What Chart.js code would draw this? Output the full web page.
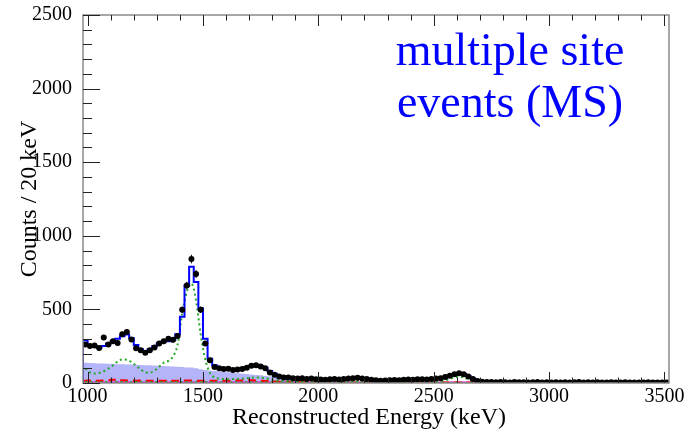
<!DOCTYPE html>
<html>
<head>
<meta charset="utf-8">
<script src="https://cdn.jsdelivr.net/npm/chart.js@4.4.1/dist/chart.umd.min.js"></script>
<style>
  body { margin: 0; background: #fff; }
  #grafico { display: block; }
</style>
</head>
<body>
<canvas id="grafico" width="690" height="433"></canvas>
<script>
// binning: 20 keV bins, from 980 to 3520 keV (127 bins)
const binInicio = 980;
const binLargura = 20;

// measured counts per bin (black points)
const contagens = [
    261, 252, 255, 238, 309, 262, 284, 272, 331, 347,
    295, 236, 223, 205, 222, 241, 268, 284, 300, 293,
    320, 498, 662, 842, 741, 498, 268, 155, 108, 100,
    95, 96, 88, 92, 95, 104, 117, 120, 112, 100,
    72, 56, 45, 38, 37, 32, 30, 33, 28, 30,
    26, 24, 22, 25, 27, 24, 28, 30, 33, 35,
    30, 28, 22, 18, 15, 17, 19, 20, 18, 22,
    24, 22, 26, 25, 24, 28, 30, 33, 40, 50,
    60, 66, 60, 45, 28, 14, 9, 7, 6, 5,
    6, 5, 4, 6, 5, 5, 4, 5, 6, 4,
    5, 4, 5, 3, 5, 4, 5, 6, 4, 5,
    4, 5, 3, 4, 5, 4, 3, 5, 4, 4,
    3, 4, 5, 3, 4, 3, 4
];

// total fit (blue histogram)
const ajusteTotal = [
    290, 258, 250, 240, 252, 268, 285, 300, 318, 330,
    305, 258, 230, 215, 230, 250, 270, 282, 283, 292,
    332, 450, 662, 790, 686, 507, 300, 165, 120, 106,
    100, 97, 95, 96, 100, 108, 117, 121, 116, 104,
    82, 62, 50, 43, 39, 36, 34, 32, 30, 29,
    28, 27, 27, 27, 28, 29, 30, 32, 34, 35,
    33, 29, 25, 21, 19, 18, 19, 20, 21, 22,
    23, 24, 25, 26, 27, 29, 31, 35, 42, 52,
    61, 65, 61, 48, 30, 16, 10, 8, 7, 7,
    7, 7, 6, 6, 6, 6, 6, 6, 6, 6,
    6, 5, 5, 5, 5, 5, 5, 5, 5, 5,
    5, 5, 5, 5, 4, 4, 4, 4, 4, 4,
    4, 4, 4, 4, 4, 4, 4
];

// green dotted component (gamma lines)
const compVerde = [
    99, 72, 65, 68, 80, 98, 120, 145, 160, 158,
    142, 118, 92, 72, 70, 85, 110, 138, 150, 180,
    260, 470, 620, 676, 560, 330, 160, 68, 38, 30,
    27, 26, 27, 28, 30, 33, 36, 38, 36, 32,
    26, 20, 16, 13, 12, 11, 10, 10, 10, 10,
    10, 10, 10, 10, 10, 10, 11, 12, 13, 13,
    12, 10, 9, 8, 8, 8, 8, 8, 8, 8,
    8, 8, 8, 8, 9, 9, 10, 12, 18, 28,
    38, 42, 38, 26, 14, 7, 4, 3, 3, 3,
    2, 2, 2, 2, 2, 2, 2, 2, 2, 2,
    2, 2, 2, 2, 2, 2, 2, 2, 2, 2,
    2, 2, 2, 2, 2, 2, 2, 2, 2, 2,
    2, 2, 2, 2, 2, 2, 2
];

// second green dotted component, near the bottom
const compVerde2 = [
    6, 6, 6, 6, 6, 6, 6, 6, 6, 6,
    6, 6, 6, 6, 6, 6, 6, 6, 6, 6,
    6, 6, 6, 6, 6, 6, 6, 6, 6, 6,
    5, 5, 5, 5, 5, 5, 5, 5, 5, 5,
    4, 4, 4, 4, 4, 4, 4, 4, 4, 4,
    3, 3, 3, 3, 3, 3, 3, 3, 3, 3,
    3, 3, 3, 3, 3, 3, 3, 3, 3, 3,
    2, 2, 2, 2, 2, 2, 2, 2, 2, 2,
    2, 2, 2, 2, 2, 2, 2, 2, 2, 2,
    1, 1, 1, 1, 1, 1, 1, 1, 1, 1,
    1, 1, 1, 1, 1, 1, 1, 1, 1, 1,
    1, 1, 1, 1, 1, 1, 1, 1, 1, 1,
    1, 1, 1, 1, 1, 1, 1
];

// light blue filled component
const compAzul = [
    138, 136, 135, 133, 132, 131, 130, 128, 127, 126,
    125, 124, 122, 121, 120, 119, 117, 116, 114, 112,
    110, 108, 106, 105, 100, 94, 88, 85, 82, 79,
    76, 73, 70, 67, 64, 61, 58, 55, 52, 48,
    45, 42, 38, 34, 30, 26, 22, 18, 15, 12,
    10, 9, 8, 7, 7, 6, 6, 5, 5, 5,
    4, 4, 4, 4, 3, 3, 3, 3, 3, 3,
    2, 2, 2, 2, 2, 2, 2, 2, 2, 2,
    1, 1, 1, 1, 1, 1, 1, 1, 1, 1,
    1, 1, 1, 1, 1, 1, 1, 1, 1, 1,
    0, 0, 0, 0, 0, 0, 0, 0, 0, 0,
    0, 0, 0, 0, 0, 0, 0, 0, 0, 0,
    0, 0, 0, 0, 0, 0, 0
];

// red dashed component
const compVermelho = [
    16, 17, 16, 16, 17, 18, 22, 22, 18, 17,
    17, 16, 17, 16, 16, 16, 15, 16, 15, 15,
    16, 17, 17, 17, 16, 16, 15, 15, 16, 16,
    16, 16, 17, 17, 17, 18, 18, 17, 16, 14,
    12, 10, 9, 8, 7, 6, 6, 5, 5, 5,
    4, 4, 4, 4, 4, 4, 4, 4, 4, 4,
    3, 3, 3, 3, 3, 3, 3, 3, 3, 3,
    3, 3, 3, 3, 3, 3, 3, 3, 3, 3,
    3, 3, 3, 3, 3, 2, 2, 2, 2, 2,
    2, 2, 2, 2, 2, 2, 2, 2, 2, 2,
    2, 2, 2, 2, 2, 2, 2, 2, 2, 2,
    2, 2, 2, 2, 2, 2, 2, 2, 2, 2,
    2, 2, 2, 2, 2, 2, 2
];

// magenta component
const compMagenta = [
    3, 3, 3, 3, 3, 3, 3, 3, 3, 3,
    3, 3, 3, 3, 3, 3, 3, 3, 3, 3,
    3, 3, 3, 3, 3, 3, 3, 3, 3, 3,
    3, 3, 3, 3, 3, 3, 3, 3, 3, 3,
    3, 3, 3, 3, 3, 3, 3, 3, 3, 3,
    3, 3, 3, 3, 3, 3, 3, 3, 3, 3,
    3, 3, 3, 3, 3, 3, 3, 3, 3, 3,
    3, 3, 3, 3, 3, 3, 3, 3, 3, 3,
    3, 3, 3, 3, 3, 1, 1, 1, 1, 1,
    1, 1, 1, 1, 1, 1, 1, 1, 1, 1,
    1, 1, 1, 1, 1, 1, 1, 1, 1, 1,
    1, 1, 1, 1, 1, 1, 1, 1, 1, 1,
    1, 1, 1, 1, 1, 1, 1
];

const ticksX = [1000, 1500, 2000, 2500, 3000, 3500];
const ticksY = [0, 500, 1000, 1500, 2000, 2500];
const tituloX = "Reconstructed Energy (keV)";
const tituloY = "Counts / 20 keV";
const textoCaixa = ["multiple site", "events (MS)"];

const fonte = "'Liberation Serif', 'Times New Roman', serif";

// histogram as steps: one point at each low edge, plus the last edge
function degraus(valores, comecaZero) {
    let pts = [];
    if (comecaZero) pts.push({x: binInicio, y: 0});
    for (let i = 0; i < valores.length; i++) {
        pts.push({x: binInicio + i * binLargura, y: valores[i]});
    }
    pts.push({x: binInicio + valores.length * binLargura, y: valores[valores.length - 1]});
    return pts;
}

function centros(valores) {
    return valores.map((v, i) => ({x: binInicio + i * binLargura + binLargura / 2, y: v}));
}

// ROOT style ticks, frame, error bars, x labels and the text box
const pluginRoot = {
    id: 'pluginRoot',
    afterDatasetsDraw(chart) {
        const ctx = chart.ctx;
        const a = chart.chartArea;
        const sx = chart.scales.x;
        const sy = chart.scales.y;

        // error bars of the data points
        ctx.save();
        ctx.beginPath();
        ctx.rect(a.left, a.top, a.right - a.left, a.bottom - a.top);
        ctx.clip();
        ctx.strokeStyle = '#000';
        ctx.lineWidth = 1;
        contagens.forEach((n, i) => {
            const xc = binInicio + i * binLargura + binLargura / 2;
            const px = sx.getPixelForValue(xc);
            const e = Math.sqrt(n);
            ctx.beginPath();
            ctx.moveTo(px, sy.getPixelForValue(n + e));
            ctx.lineTo(px, sy.getPixelForValue(Math.max(n - e, 0)));
            ctx.moveTo(sx.getPixelForValue(xc - binLargura / 2), sy.getPixelForValue(n));
            ctx.lineTo(sx.getPixelForValue(xc + binLargura / 2), sy.getPixelForValue(n));
            ctx.stroke();
        });
        ctx.restore();

        ctx.save();
        // frame
        ctx.strokeStyle = '#8a8a8a';
        ctx.lineWidth = 1.5;
        ctx.strokeRect(a.left, a.top, a.right - a.left, a.bottom - a.top);

        // ticks
        ctx.strokeStyle = '#222';
        ctx.lineWidth = 1;
        ctx.beginPath();
        for (let v = 0; v <= 2500; v += 100) {
            const py = Math.round(sy.getPixelForValue(v)) + 0.5;
            const len = (v % 500 === 0) ? 17 : 9;
            ctx.moveTo(a.left, py);
            ctx.lineTo(a.left + len, py);
        }
        for (let v = 1000; v <= 3500; v += 100) {
            const px = Math.round(sx.getPixelForValue(v)) + 0.5;
            const len = (v % 500 === 0) ? 11 : 5.5;
            ctx.moveTo(px, a.bottom);
            ctx.lineTo(px, a.bottom - len);
            ctx.moveTo(px, a.top);
            ctx.lineTo(px, a.top + len);
        }
        ctx.stroke();

        // x labels and x title
        ctx.fillStyle = '#000';
        ctx.textAlign = 'center';
        ctx.textBaseline = 'middle';
        ctx.font = "20px " + fonte;
        ticksX.forEach(v => {
            ctx.fillText(String(v), sx.getPixelForValue(v), a.bottom + 14);
        });
        ctx.font = "24px " + fonte;
        ctx.textBaseline = 'alphabetic';
        ctx.fillText(tituloX, 369, 424);

        // text box
        ctx.fillStyle = '#0000ff';
        ctx.font = "46px " + fonte;
        ctx.fillText(textoCaixa[0], 510, 65);
        ctx.fillText(textoCaixa[1], 510, 117);
        ctx.restore();
    }
};

function desenhaGrafico() {
    const ctx = document.getElementById('grafico').getContext('2d');
    new Chart(ctx, {
        type: 'line',
        data: {
            datasets: [
                {
                    label: 'dados',
                    data: centros(contagens),
                    showLine: false,
                    pointRadius: 3,
                    pointBackgroundColor: '#000',
                    pointBorderColor: '#000',
                    pointBorderWidth: 0,
                    order: 0
                },
                {
                    label: 'ajuste',
                    data: degraus(ajusteTotal, true),
                    stepped: 'before',
                    borderColor: '#0000ff',
                    borderWidth: 2,
                    pointRadius: 0,
                    fill: false,
                    order: 1
                },
                {
                    label: 'verde',
                    data: centros(compVerde),
                    borderColor: '#22a822',
                    borderWidth: 2,
                    borderDash: [2, 3],
                    cubicInterpolationMode: 'monotone',
                    pointRadius: 0,
                    fill: false,
                    order: 2
                },
                {
                    label: 'verde2',
                    data: centros(compVerde2),
                    borderColor: '#22a822',
                    borderWidth: 2,
                    borderDash: [2, 3],
                    pointRadius: 0,
                    fill: false,
                    order: 3
                },
                {
                    label: 'vermelho',
                    data: degraus(compVermelho, false),
                    stepped: 'before',
                    borderColor: '#ff0000',
                    borderWidth: 2,
                    borderDash: [8, 5],
                    pointRadius: 0,
                    fill: false,
                    order: 4
                },
                {
                    label: 'magenta',
                    data: degraus(compMagenta, false),
                    stepped: 'before',
                    borderColor: '#ff00ff',
                    borderWidth: 2,
                    pointRadius: 0,
                    fill: false,
                    order: 5
                },
                {
                    label: 'azul',
                    data: degraus(compAzul, true),
                    stepped: 'before',
                    borderColor: 'rgba(0,0,0,0)',
                    borderWidth: 0,
                    backgroundColor: 'rgb(180,180,250)',
                    pointRadius: 0,
                    fill: 'origin',
                    order: 6
                }
            ]
        },
        options: {
            responsive: false,
            animation: false,
            layout: { padding: { left: 0, top: 13, right: 21, bottom: 0 } },
            plugins: {
                legend: { display: false },
                tooltip: { enabled: false }
            },
            scales: {
                x: {
                    type: 'linear',
                    min: 980,
                    max: 3520,
                    afterBuildTicks: s => { s.ticks = ticksX.map(v => ({value: v})); },
                    afterFit: s => { s.height = 50; },
                    grid: { display: false },
                    border: { display: false },
                    ticks: { display: false }
                },
                y: {
                    type: 'linear',
                    min: 0,
                    max: 2500,
                    afterBuildTicks: s => { s.ticks = ticksY.map(v => ({value: v})); },
                    afterFit: s => { s.width = 83; },
                    grid: { display: false },
                    border: { display: false },
                    ticks: {
                        color: '#000',
                        padding: 3,
                        font: { family: fonte, size: 20 },
                        callback: v => String(v)
                    },
                    title: {
                        display: true,
                        text: tituloY,
                        color: '#000',
                        font: { family: fonte, size: 24 },
                        padding: { top: 15, bottom: 0 }
                    }
                }
            }
        },
        plugins: [pluginRoot]
    });
}

desenhaGrafico();
</script>
</body>
</html>
